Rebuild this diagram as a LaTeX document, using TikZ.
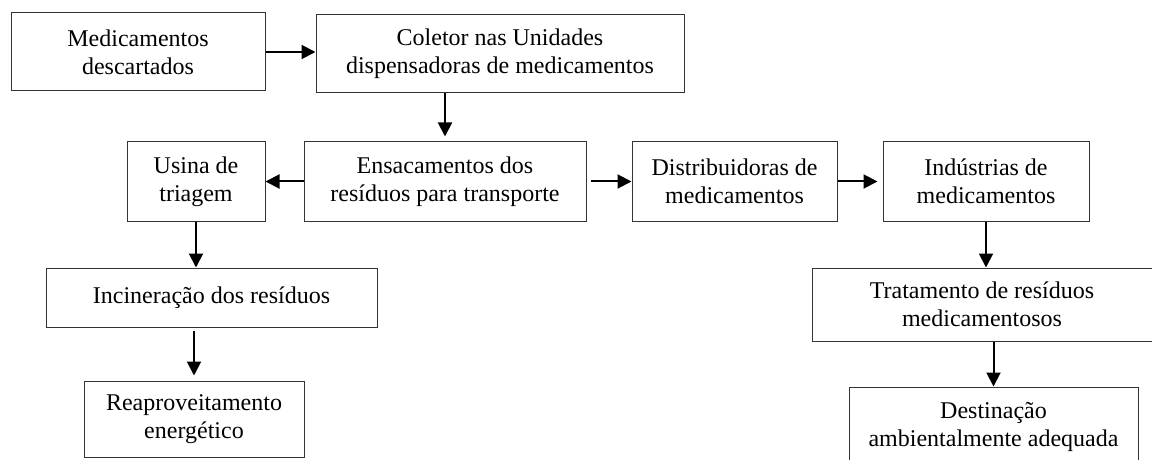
\documentclass[tikz,border=0pt]{standalone}
\usepackage{fontspec}
\setmainfont{Liberation Serif}
\usetikzlibrary{arrows.meta}

\begin{document}
\begin{tikzpicture}[x=0.5pt, y=-0.5pt,
    box/.style={shape=rectangle, draw=black!80, line width=0.5pt, align=center, inner sep=0pt, font=\fontsize{12pt}{14pt}\selectfont},
    arr/.style={-{Triangle[length=7pt,width=7pt]}, line width=1pt}]
    \useasboundingbox (0,0) rectangle (1152,460);
    \node[box, minimum width=127pt, minimum height=39pt] at (138,52) (med) {Medicamentos\\descartados};
    \node[box, minimum width=184pt, minimum height=39pt] at (500,54) (col) {Coletor nas Unidades\\dispensadoras de medicamentos};
    \node[box, minimum width=69pt, minimum height=39.5pt] at (196,181.5) (usina) {Usina de\\triagem};
    \node[box, minimum width=141pt, minimum height=39.5pt] at (445,181.5) (ensac) {Ensacamentos dos\\resíduos para transporte};
    \node[box, minimum width=102.5pt, minimum height=39.5pt] at (734.5,181.5) (distr) {Distribuidoras de\\medicamentos};
    \node[box, minimum width=103pt, minimum height=39.5pt] at (986,181.5) (indus) {Indústrias de\\medicamentos};
    \node[box, minimum width=165.5pt, minimum height=29.5pt] at (211.5,297.5) (incin) {Incineração dos resíduos};
    \node[box, minimum width=110pt, minimum height=38pt] at (194,419) (reapr) {Reaproveitamento\\energético};
    \node[box, minimum width=170pt, minimum height=36.5pt] at (982,304.5) (trat) {Tratamento de resíduos\\medicamentosos};
    \node[box, minimum width=144.5pt, minimum height=40pt] at (993.5,427) (dest) {Destinação\\ambientalmente adequada};
    \draw[arr] (med.east) -- (med.east -| col.west);
    \draw[arr, shorten >=2.5pt] (ensac.north |- col.south) -- (ensac.north);
    \draw[arr] (ensac.west) -- (usina.east);
    \draw[arr, shorten <=2pt] (ensac.east) -- (distr.west);
    \draw[arr, shorten >=2.5pt] (distr.east) -- (indus.west);
    \draw[arr] (usina.south) -- (usina.south |- incin.north);
    \draw[arr, shorten <=1.5pt, shorten >=2.5pt] (reapr.north |- incin.south) -- (reapr.north);
    \draw[arr] (indus.south) -- (indus.south |- trat.north);
    \draw[arr] (dest.north |- trat.south) -- (dest.north);
\end{tikzpicture}
\end{document}
